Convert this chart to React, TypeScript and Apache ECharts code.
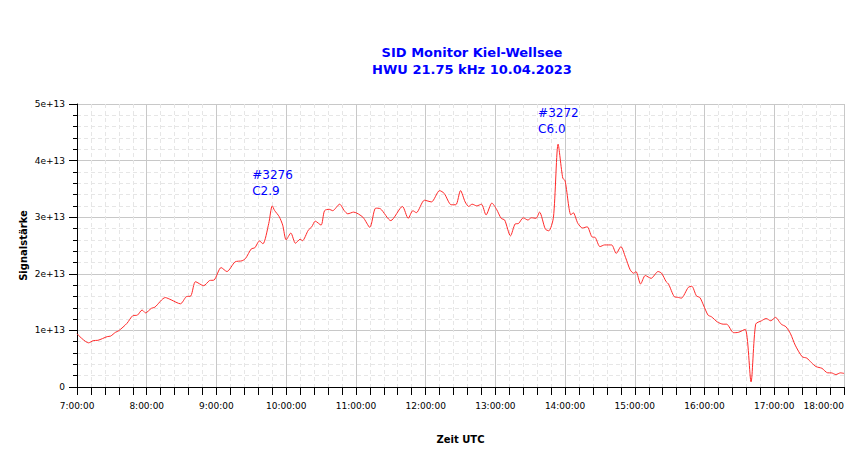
import React, { useEffect, useRef } from "react";
import * as echarts from "echarts";

const TITLE_LINES = ["SID Monitor Kiel-Wellsee", "HWU 21.75 kHz 10.04.2023"];
const X_NAME = "Zeit UTC";
const Y_NAME = "Signalstärke";
const UNIT = 1e13;

// Time (UTC, HH:MM) and signal strength in units of 1e13
const times = [
  "07:00", "07:10", "07:14", "07:18", "07:26", "07:29", "07:33", "07:36", "07:43", "07:48",
  "07:52", "07:56", "07:59", "08:04", "08:07", "08:16", "08:21", "08:29", "08:34", "08:38",
  "08:42", "08:49", "08:54", "08:58", "09:04", "09:09", "09:16", "09:22", "09:25", "09:30",
  "09:33", "09:37", "09:40", "09:45", "09:48", "09:50", "09:54", "09:57", "10:00", "10:04",
  "10:08", "10:12", "10:14", "10:19", "10:22", "10:25", "10:30", "10:33", "10:37", "10:40",
  "10:46", "10:50", "10:53", "10:58", "11:06", "11:12", "11:17", "11:21", "11:30", "11:40",
  "11:45", "11:49", "11:52", "11:59", "12:05", "12:12", "12:16", "12:22", "12:26", "12:30",
  "12:34", "12:37", "12:40", "12:44", "12:48", "12:52", "12:57", "13:01", "13:05", "13:08",
  "13:13", "13:17", "13:20", "13:24", "13:28", "13:31", "13:35", "13:38", "13:43", "13:46",
  "13:50", "13:54", "13:58", "14:00", "14:05", "14:07", "14:11", "14:15", "14:19", "14:23",
  "14:26", "14:30", "14:34", "14:40", "14:44", "14:48", "14:52", "14:56", "14:59", "15:01",
  "15:05", "15:09", "15:14", "15:20", "15:23", "15:27", "15:29", "15:34", "15:37", "15:40",
  "15:46", "15:49", "15:53", "15:56", "15:59", "16:03", "16:06", "16:11", "16:16", "16:19",
  "16:25", "16:29", "16:35", "16:40", "16:44", "16:49", "16:53", "16:57", "17:01", "17:06",
  "17:10", "17:14", "17:18", "17:24", "17:28", "17:32", "17:36", "17:41", "17:46", "17:49",
  "17:53", "17:57", "18:00",
];

const signal = [
  0.94, 0.78, 0.82, 0.825, 0.89, 0.9, 0.965, 0.995, 1.125, 1.26,
  1.27, 1.36, 1.31, 1.39, 1.41, 1.58, 1.54, 1.47, 1.595, 1.61,
  1.86, 1.79, 1.88, 1.89, 2.11, 2.04, 2.21, 2.23, 2.27, 2.44,
  2.46, 2.58, 2.53, 2.89, 3.2, 3.12, 3.01, 2.86, 2.6, 2.72,
  2.54, 2.61, 2.585, 2.77, 2.83, 2.93, 2.86, 3.115, 3.14, 3.115,
  3.23, 3.115, 3.06, 3.09, 3.0, 2.82, 3.16, 3.15, 2.94, 3.19,
  2.98, 3.115, 3.08, 3.3, 3.27, 3.47, 3.42, 3.22, 3.22, 3.47,
  3.27, 3.19, 3.23, 3.2, 3.23, 3.04, 3.25, 3.14, 2.98, 2.95,
  2.67, 2.88, 2.89, 2.99, 2.95, 2.99, 2.98, 3.09, 2.79, 2.76,
  3.0, 4.29, 3.69, 3.645, 3.04, 3.08, 2.89, 2.81, 2.83, 2.655,
  2.64, 2.48, 2.51, 2.51, 2.36, 2.48, 2.29, 2.07, 2.01, 2.04,
  1.82, 1.97, 1.92, 2.04, 2.01, 1.86, 1.82, 1.595, 1.585, 1.57,
  1.76, 1.78, 1.61, 1.58, 1.45, 1.27, 1.24, 1.15, 1.11, 1.11,
  0.96, 0.965, 1.02, 0.09, 1.11, 1.17, 1.21, 1.17, 1.23, 1.11,
  1.065, 0.94, 0.74, 0.535, 0.51, 0.43, 0.36, 0.33, 0.25, 0.25,
  0.22, 0.25, 0.24,
];

// Flare annotations: time of peak, label lines
const flareTimes = ["09:48", "13:54"];
const flareLabels = [
  ["#3276", "C2.9"],
  ["#3272", "C6.0"],
];

const X_MIN_H = 7;
const X_MAX_H = 18;

const toMin = (t: string) => {
  const [h, m] = t.split(":").map(Number);
  return h * 60 + m;
};

export default function App() {
  const ref = useRef<HTMLDivElement>(null);

  useEffect(() => {
    if (!ref.current) return;
    const chart = echarts.init(ref.current, null, { renderer: "svg" });
    const data = times.map((t, i) => [toMin(t), signal[i] * UNIT]);
    const markData = flareTimes.map((t, k) => {
      const idx = times.indexOf(t);
      return {
        coord: [toMin(t), signal[idx] * UNIT],
        label: { formatter: flareLabels[k].join("\n") },
      };
    });
    const font = "DejaVu Sans, Verdana, sans-serif";
    chart.setOption({
      animation: false,
      backgroundColor: "#ffffff",
      title: {
        text: TITLE_LINES.join("\n"),
        left: 472,
        top: 44,
        textAlign: "center",
        padding: 0,
        textStyle: {
          fontFamily: font,
          fontSize: 13,
          fontWeight: "bold",
          color: "#0000ff",
          lineHeight: 17,
        },
      },
      grid: {
        left: 77,
        right: 6,
        top: 104,
        bottom: 72,
        containLabel: false,
        outerBoundsMode: "none",
      },
      xAxis: {
        type: "value",
        min: X_MIN_H * 60,
        max: X_MAX_H * 60,
        interval: 60,
        name: X_NAME,
        nameLocation: "middle",
        nameGap: 47,
        nameMoveOverlap: false,
        nameTextStyle: { fontFamily: font, fontSize: 10, fontWeight: "bold", color: "#000" },
        axisLine: { show: true, onZero: false, lineStyle: { color: "#000", width: 1 } },
        axisTick: { show: true, length: 8, lineStyle: { color: "#000" } },
        minorTick: { show: true, splitNumber: 5, length: 8, lineStyle: { color: "#000" } },
        axisLabel: {
          margin: 14,
          fontFamily: font,
          fontSize: 9,
          color: "#000",
          hideOverlap: false,
          alignMaxLabel: "right",
          formatter: (v: number) => `${Math.floor(v / 60)}:00:00`,
        },
        splitLine: { show: true, lineStyle: { color: "#c8c8c8", width: 1 } },
        minorSplitLine: { show: true, lineStyle: { color: "#e6e6e6", width: 1, type: [4, 3] } },
      },
      yAxis: {
        type: "value",
        min: 0,
        max: 5 * UNIT,
        interval: UNIT,
        name: Y_NAME,
        nameLocation: "middle",
        nameGap: 49,
        nameMoveOverlap: false,
        nameTextStyle: { fontFamily: font, fontSize: 10, fontWeight: "bold", color: "#000" },
        axisLine: { show: true, lineStyle: { color: "#000", width: 1 } },
        axisTick: { show: true, length: 8, lineStyle: { color: "#000" } },
        minorTick: { show: true, splitNumber: 5, length: 4, lineStyle: { color: "#000" } },
        axisLabel: {
          margin: 12,
          fontFamily: font,
          fontSize: 9,
          color: "#000",
          formatter: (v: number) => (v === 0 ? "0" : `${Math.round(v / UNIT)}e+13`),
        },
        splitLine: { show: true, lineStyle: { color: "#c8c8c8", width: 1 } },
        minorSplitLine: { show: true, lineStyle: { color: "#e6e6e6", width: 1, type: [4, 3] } },
      },
      series: [
        {
          type: "line",
          data,
          showSymbol: false,
          smooth: 0.25,
          lineStyle: { color: "#ff2a2a", width: 1 },
          itemStyle: { color: "#ff2a2a" },
          markPoint: {
            symbol: "circle",
            symbolSize: 0,
            silent: true,
            label: {
              show: true,
              position: [-20, -39],
              align: "left",
              verticalAlign: "top",
              fontFamily: font,
              fontSize: 12,
              lineHeight: 16,
              color: "#0000ff",
            },
            data: markData,
          },
        },
      ],
    });
    return () => chart.dispose();
  }, []);

  return (
    <div
      ref={ref}
      style={{ position: "fixed", left: 0, top: 0, width: 850, height: 459, background: "#fff" }}
    />
  );
}
